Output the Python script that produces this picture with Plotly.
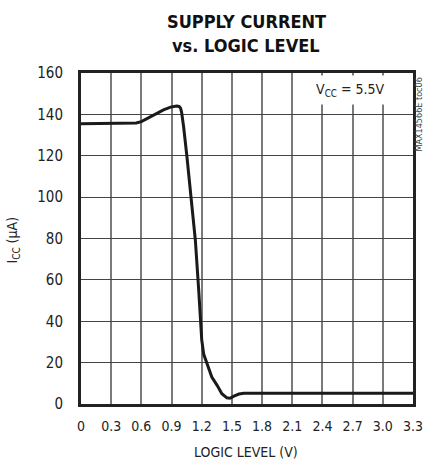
import plotly.graph_objects as go

logic_level_v = [0, 0.3, 0.5, 0.55, 0.6, 0.675, 0.75, 0.82, 0.89, 0.95, 0.975, 0.99, 1.0, 1.02,
                 1.053, 1.1, 1.137, 1.17, 1.2, 1.22, 1.25, 1.3, 1.353, 1.4, 1.45, 1.48, 1.52,
                 1.57, 1.62, 2.0, 2.7, 3.3]
icc_ua = [135.5, 135.5, 135.6, 135.8, 136.5, 138.5, 140.5, 142.2, 143.5, 144, 143.8, 143, 141, 134,
          119.5, 98.6, 79, 55, 31, 24, 19.5, 13, 9, 5, 3, 2.8, 3.8,
          4.8, 5.2, 5.2, 5.2, 5.2]

x_ticks = [0, 0.3, 0.6, 0.9, 1.2, 1.5, 1.8, 2.1, 2.4, 2.7, 3.0, 3.3]
x_tick_labels = ["0", "0.3", "0.6", "0.9", "1.2", "1.5", "1.8", "2.1", "2.4", "2.7", "3.0", "3.3"]
y_ticks = [0, 20, 40, 60, 80, 100, 120, 140, 160]

FONT = "DejaVu Sans Condensed, Liberation Sans Narrow, Roboto, sans-serif"

fig = go.Figure()
fig.add_trace(go.Scatter(x=logic_level_v, y=icc_ua, mode="lines",
                         line=dict(color="#1a1a1a", width=3),
                         showlegend=False, hoverinfo="skip"))

fig.update_layout(
    width=424, height=464,
    margin=dict(l=81, r=11, t=73, b=60, autoexpand=False),
    paper_bgcolor="white", plot_bgcolor="white",
    font=dict(family=FONT, size=14, color="#222"),
)
fig.update_xaxes(range=[0, 3.3], tickvals=x_ticks, ticktext=x_tick_labels,
                 showgrid=True, gridcolor="#7a7a7a", gridwidth=1.5,
                 showline=True, linecolor="#222", linewidth=3, mirror=True,
                 ticks="", ticklabelstandoff=7, zeroline=False, automargin=False,
                 tickfont=dict(size=14))
fig.update_yaxes(range=[0, 160], tickvals=y_ticks,
                 showgrid=True, gridcolor="#444", gridwidth=1,
                 showline=True, linecolor="#222", linewidth=3, mirror=True,
                 ticks="", ticklabelstandoff=12, zeroline=False, automargin=False,
                 tickfont=dict(size=15))

# Axis titles
fig.add_annotation(x=0.497, y=-0.145, xref="paper", yref="paper", xanchor="center", yanchor="middle",
                   text="LOGIC LEVEL (V)", showarrow=False, font=dict(family=FONT, size=14, color="#222"))
fig.add_annotation(x=-0.202, y=0.497, xref="paper", yref="paper", xanchor="center", yanchor="middle",
                   text="I<sub>CC</sub> (µA)", textangle=-90, showarrow=False,
                   font=dict(family=FONT, size=14, color="#222"))

# Title lines
fig.add_annotation(x=0.497, y=1.155, xref="paper", yref="paper", xanchor="center", yanchor="middle",
                   text="<b>SUPPLY CURRENT</b>", showarrow=False,
                   font=dict(family=FONT, size=18, color="#111"))
fig.add_annotation(x=0.497, y=1.084, xref="paper", yref="paper", xanchor="center", yanchor="middle",
                   text="<b>vs. LOGIC LEVEL</b>", showarrow=False,
                   font=dict(family=FONT, size=18, color="#111"))

fig.add_annotation(x=0.813, y=0.949, xref="paper", yref="paper", xanchor="center", yanchor="middle",
                   text="V<sub>CC</sub> = 5.5V", showarrow=False, bgcolor="white", borderpad=5,
                   font=dict(family=FONT, size=14, color="#222"))
fig.add_annotation(x=1.0196, y=0.873, xref="paper", yref="paper", xanchor="center", yanchor="middle",
                   text="MAX14566E toc06", textangle=-90, showarrow=False,
                   font=dict(family=FONT, size=9, color="#444"))

fig.write_html("out.html", config={"displayModeBar": False},
               post_script="document.body.style.margin='0';"
                           "document.documentElement.style.overflow='hidden';")
